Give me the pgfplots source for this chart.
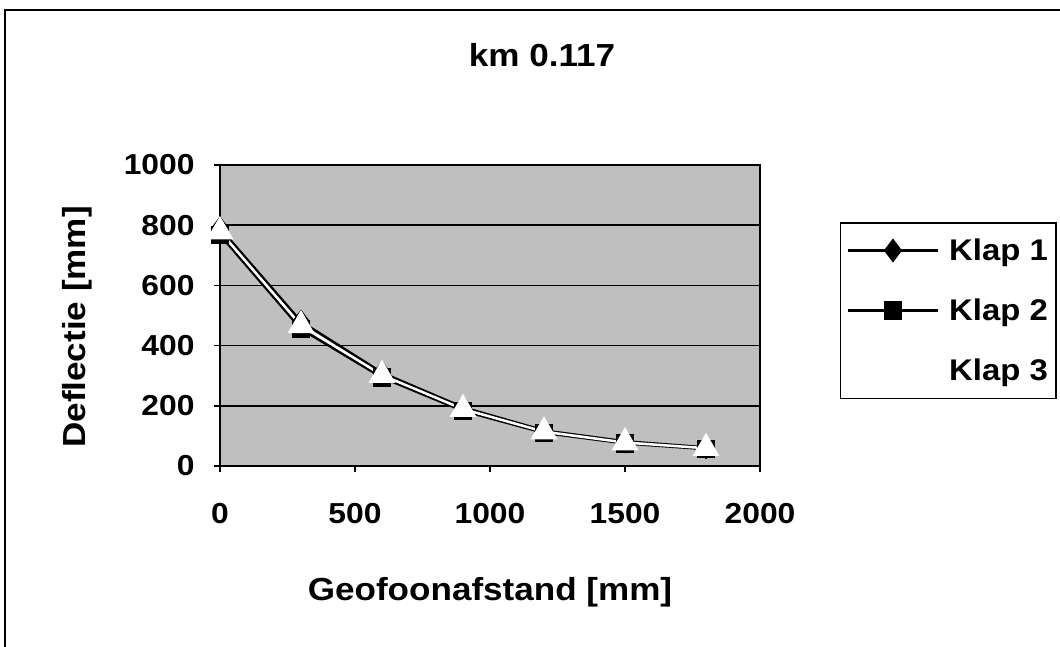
\documentclass[border=0pt]{standalone}
\usepackage{fontspec}
\setmainfont{Liberation Sans}[FakeStretch=1.1]
\usepackage{pgfplots}
\pgfplotsset{compat=1.18}
\begin{document}
\begin{tikzpicture}[x=1bp,y=1bp]
\useasboundingbox (0,0) rectangle (1060,647);
\draw[line width=1.5bp] (5,0) -- (5,637) -- (1060,637);
\node[font=\fontsize{32}{38}\selectfont\bfseries] at (542,592) {km 0.117};
\begin{axis}[
  at={(220bp,181bp)}, anchor=south west,
  scale only axis, width=540bp, height=301bp,
  xmin=0, xmax=2000, ymin=0, ymax=1000,
  xtick={0,500,1000,1500,2000},
  ytick={0,200,400,600,800,1000},
  ymajorgrids,
  major grid style={black, line width=1.5bp},
  axis line style={line width=1.5bp},
  tick style={black, line width=1.5bp},
  major tick length=6bp,
  tick align=outside, tick pos=left,
  axis background/.style={fill=black!25},
  /pgf/number format/assume math mode=true,
  /pgf/number format/1000 sep={},
  tick label style={font=\fontsize{29}{33}\selectfont\bfseries},
  yticklabel style={xshift=-16bp},
  xticklabel style={yshift=-28bp},
  label style={font=\fontsize{32}{36}\selectfont\bfseries},
  xlabel={Geofoonafstand [mm]},
  ylabel={Deflectie [mm]},
  xlabel style={at={(axis description cs:0.5,-0.419)}, anchor=center},
  ylabel style={at={(axis description cs:-0.265,0.462)}, anchor=center},
  legend style={at={(axis description cs:1.1481,0.81)}, anchor=north west,
    draw=black, line width=1.5bp, fill=white,
    font=\fontsize{30}{34}\selectfont\bfseries,
    row sep=33bp, inner xsep=6bp, inner ysep=14bp,
    /tikz/every even column/.append style={column sep=0bp},
    /tikz/every odd column/.append style={column sep=8bp}},
  legend cell align=left,
  legend image code/.code={
    \draw[mark repeat=2, mark phase=2, #1] plot coordinates {(0bp,0bp) (45bp,0bp) (90bp,0bp)};
  },
]
\addplot[black, line width=2.5bp, mark=diamond*, mark size=10bp, mark options={solid}] coordinates {
  (0,790) (300,480) (600,310) (900,195) (1200,118) (1500,82) (1800,62)
};
\addlegendentry{Klap 1}
\addplot[black, line width=2.5bp, mark=square*, mark size=8bp] coordinates {
  (0,768) (300,455) (600,294) (900,183) (1200,110) (1500,75) (1800,56)
};
\addlegendentry{Klap 2}
\addplot[white, line width=2.5bp, mark=triangle*, mark size=13bp, mark options={fill=white, draw=white}] coordinates {
  (0,779) (300,467) (600,302) (900,189) (1200,114) (1500,78) (1800,59)
};
\addlegendentry{Klap 3}
\end{axis}
\end{tikzpicture}
\end{document}
